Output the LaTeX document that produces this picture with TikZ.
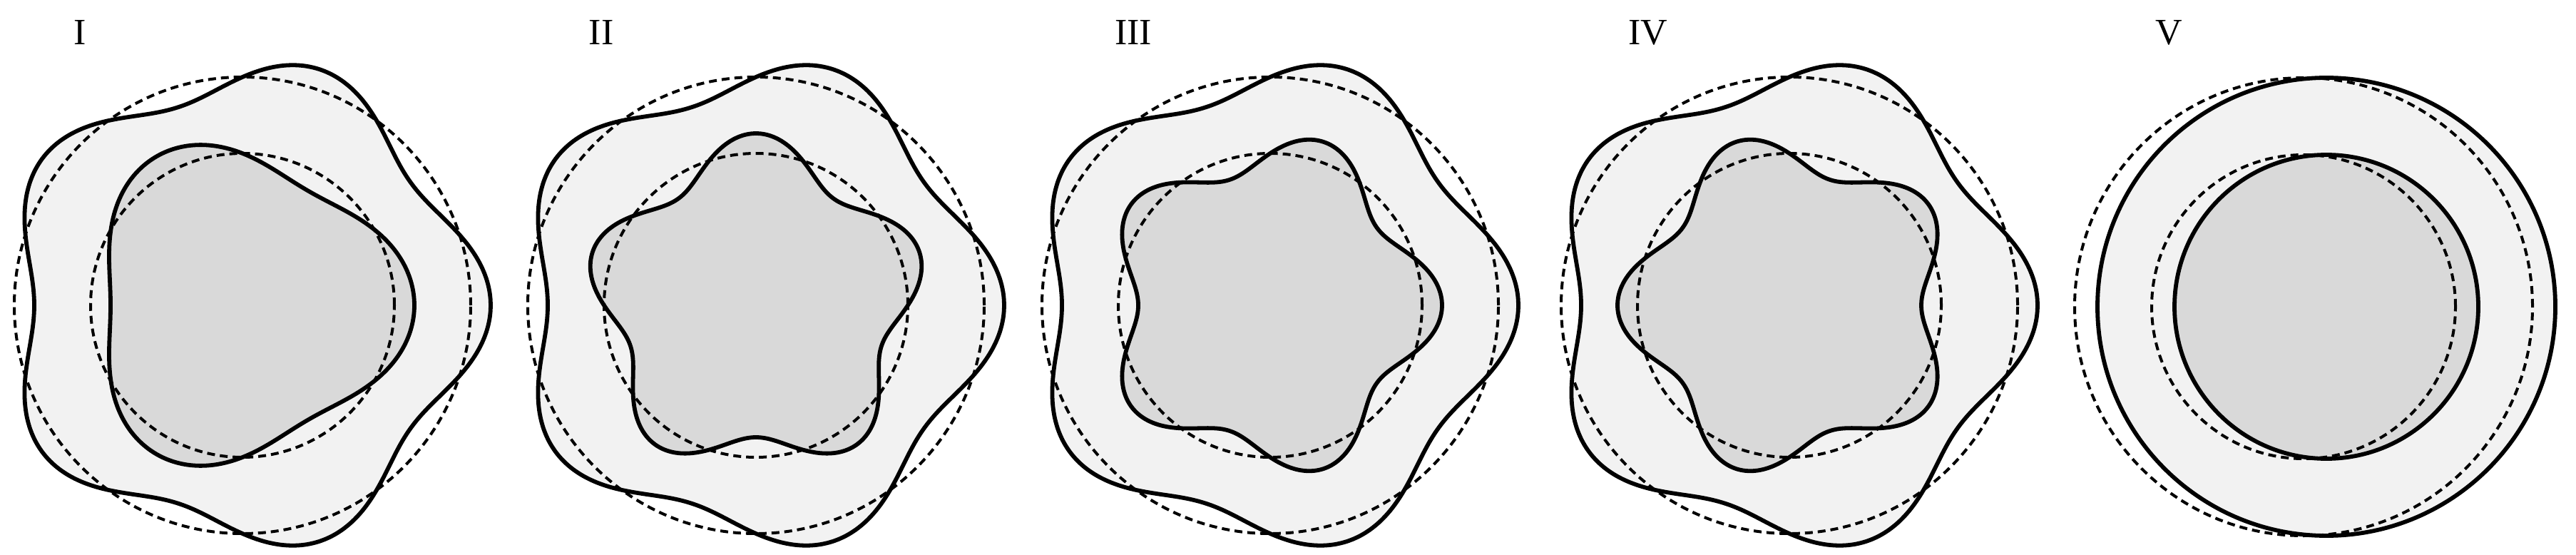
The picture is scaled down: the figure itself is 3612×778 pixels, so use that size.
\documentclass[tikz,border=0pt]{standalone}
\usepackage{fontspec}
\setmainfont{Liberation Serif}
\definecolor{ringgray}{HTML}{F2F2F2}
\definecolor{coregray}{HTML}{D9D9D9}
\begin{document}
\begin{tikzpicture}[x=1pt,y=1pt,
  solidline/.style={line width=5.8pt, line join=round},
  refline/.style={line width=4pt, dash pattern=on 11pt off 7pt},
  lbl/.style={font=\fontsize{52}{60}\selectfont, anchor=base, inner sep=0pt},
  wave/.style={domain=0:360, samples=241, smooth}]
\useasboundingbox (0,0) rectangle (3612,-778);
% Panel I
\begin{scope}[shift={(340,-428)}]
  \fill[ringgray] plot[wave] (\x:{320+28*cos(5*\x)}) -- cycle;
  \fill[coregray] plot[wave] (\x:{213+28*cos(3*\x)}) -- cycle;
  \draw[refline] (0,0) circle[radius=320pt];
  \draw[refline] (0,0) circle[radius=213pt];
  \draw[solidline] plot[wave] (\x:{320+28*cos(5*\x)}) -- cycle;
  \draw[solidline] plot[wave] (\x:{213+28*cos(3*\x)}) -- cycle;
\end{scope}
% Panel II
\begin{scope}[shift={(1060,-428)}]
  \fill[ringgray] plot[wave] (\x:{320+28*cos(5*\x)}) -- cycle;
  \fill[coregray] plot[wave] (\x:{213+28*cos(5*(\x-90))}) -- cycle;
  \draw[refline] (0,0) circle[radius=320pt];
  \draw[refline] (0,0) circle[radius=213pt];
  \draw[solidline] plot[wave] (\x:{320+28*cos(5*\x)}) -- cycle;
  \draw[solidline] plot[wave] (\x:{213+28*cos(5*(\x-90))}) -- cycle;
\end{scope}
% Panel III
\begin{scope}[shift={(1781,-428)}]
  \fill[ringgray] plot[wave] (\x:{320+28*cos(5*\x)}) -- cycle;
  \fill[coregray] plot[wave] (\x:{213+28*cos(5*\x)}) -- cycle;
  \draw[refline] (0,0) circle[radius=320pt];
  \draw[refline] (0,0) circle[radius=213pt];
  \draw[solidline] plot[wave] (\x:{320+28*cos(5*\x)}) -- cycle;
  \draw[solidline] plot[wave] (\x:{213+28*cos(5*\x)}) -- cycle;
\end{scope}
% Panel IV
\begin{scope}[shift={(2509,-428)}]
  \fill[ringgray] plot[wave] (\x:{320+28*cos(5*\x)}) -- cycle;
  \fill[coregray] plot[wave] (\x:{213-28*cos(5*\x)}) -- cycle;
  \draw[refline] (0,0) circle[radius=320pt];
  \draw[refline] (0,0) circle[radius=213pt];
  \draw[solidline] plot[wave] (\x:{320+28*cos(5*\x)}) -- cycle;
  \draw[solidline] plot[wave] (\x:{213-28*cos(5*\x)}) -- cycle;
\end{scope}
% Panel V
\begin{scope}[shift={(3230,-430)}]
  \fill[ringgray] (32,0) circle[radius=321pt];
  \fill[coregray] (32,0) circle[radius=213pt];
  \draw[refline] (0,0) circle[radius=321pt];
  \draw[refline] (0,0) circle[radius=213pt];
  \draw[solidline] (32,0) circle[radius=321pt];
  \draw[solidline] (32,0) circle[radius=213pt];
\end{scope}
% Labels
\node[lbl] (l1) at (112,-63) {I};
\node[lbl] (l2) at (843,-63) {II};
\node[lbl] (l3) at (1589,-63) {III};
\node[lbl] (l4) at (2311,-63) {IV};
\node[lbl] (l5) at (3041,-63) {V};
\end{tikzpicture}
\end{document}
